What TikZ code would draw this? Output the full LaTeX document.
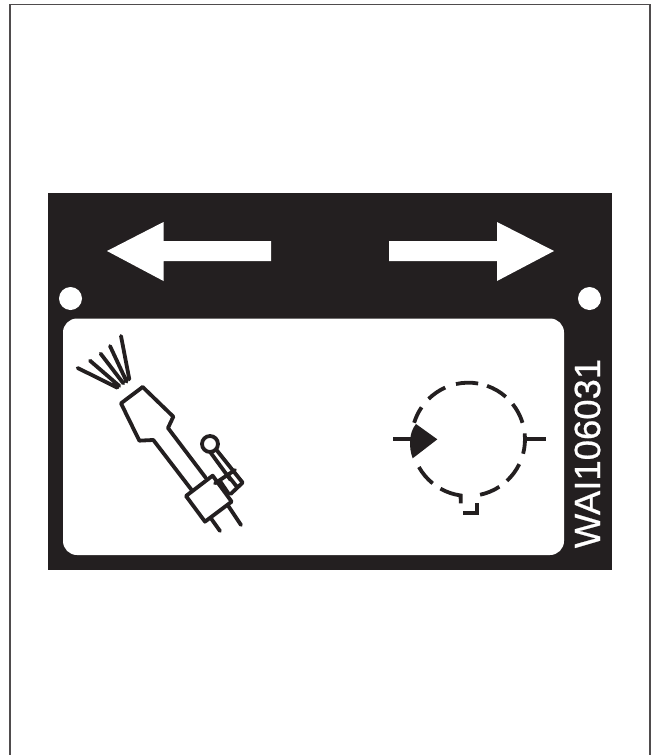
\documentclass[tikz,border=0pt]{standalone}
\usepackage{fontspec}
\setmainfont{Liberation Sans}
\newfontfamily\codefont[FakeBold=0.6]{Liberation Sans}
\definecolor{ink}{RGB}{35,31,32}
\tikzset{
  frameline/.style={draw=ink!80,line width=1.2pt},
  symline/.style={draw=ink,line width=3.8pt,line cap=butt,line join=miter},
  thinline/.style={draw=ink,line width=3.8pt,line join=round,line cap=round},
}
\begin{document}
\begin{tikzpicture}[x=1pt,y=-1pt]
\useasboundingbox (0,0) rectangle (658,755);
\fill[white] (0,0) rectangle (658,755);
\draw[frameline] (10,755) -- (10,4.5) -- (650,4.5) -- (650,755);
% plate
\fill[ink] (48,193) rectangle (612,570);
\fill[white] (107,251) -- (163.5,222) -- (163.5,241) -- (271,241) -- (271,261) -- (163.5,261) -- (163.5,281) -- cycle;
\fill[white] (554,251) -- (497,222) -- (497,241) -- (389,241) -- (389,261) -- (497,261) -- (497,281) -- cycle;
\fill[white] (70.5,298.5) circle (11.5);
\fill[white] (589.5,298.5) circle (11.5);
\fill[white,rounded corners=14pt] (63,318.5) rectangle (564,555);
\node[text=white,rotate=90,font=\codefont\fontsize{36.5}{37}\selectfont,inner sep=0pt] (code) at (587.5,453.5) {WAI106031};
% torch
\begin{scope}[shift={(60,320)},x=0.3333pt,y=-0.3333pt]
  \draw[thinline] (53,144) -- (172,203) (90,122) -- (178,198) (122,101) -- (190,190) (150,78) -- (200,185) (183,48) -- (208,178);
  \draw[thinline] (248,201) -- (183,250) -- (238,362) -- (280,360) -- (395,510);
  \draw[thinline] (248,201) -- (340,290) -- (324,324) -- (437,473);
  \draw[thinline] (378,528) -- (458,467) -- (515,545) -- (435,605) -- cycle;
  \draw[thinline] (455,598) -- (480,633) (503,555) -- (543,615);
  \draw[thinline] (450,372) circle (24);
  \draw[thinline] (468,388) -- (548,488) -- (512,522) (452,398) -- (512,480) (465,490) -- (525,450) (480,483) -- (505,520) (505,468) -- (532,502);
\end{scope}
% motor symbol
\begin{scope}[shift={(380,360)},x=0.3333pt,y=-0.3333pt]
  \def\cx{265}\def\cy{238}\def\R{170}
  \begin{scope}[shift={(\cx,\cy)}]
    \foreach \a/\b in {-102.6/-80,-70.7/-48.6,-38.5/-17,-6/14.7,26/47,56.8/78,129/150.7,-134.5/-114}{
      \draw[symline] (\a:\R) arc[start angle=\a,end angle=\b,radius=\R];
    }
    % left lower dash with notch
    \draw[symline] (119.5:\R) arc[start angle=119.5,end angle=97.8,radius=\R] -- (-23,192);
    \draw[symline] (27,192) -- (27,220) -- (-15,220);
    % filled wedge and upper dash
    \fill[ink] (-93,0) -- (-157,-46) .. controls (-179,-20) and (-179,25) .. (-167,57) -- cycle;
    \draw[symline] (-145.6:\R) arc[start angle=-145.6,end angle=-163,radius=\R];
    % ports
    \draw[symline] (-225,0) -- (-170,0);
    \draw[symline] (174,0) -- (232,0);
  \end{scope}
\end{scope}
\end{tikzpicture}
\end{document}
